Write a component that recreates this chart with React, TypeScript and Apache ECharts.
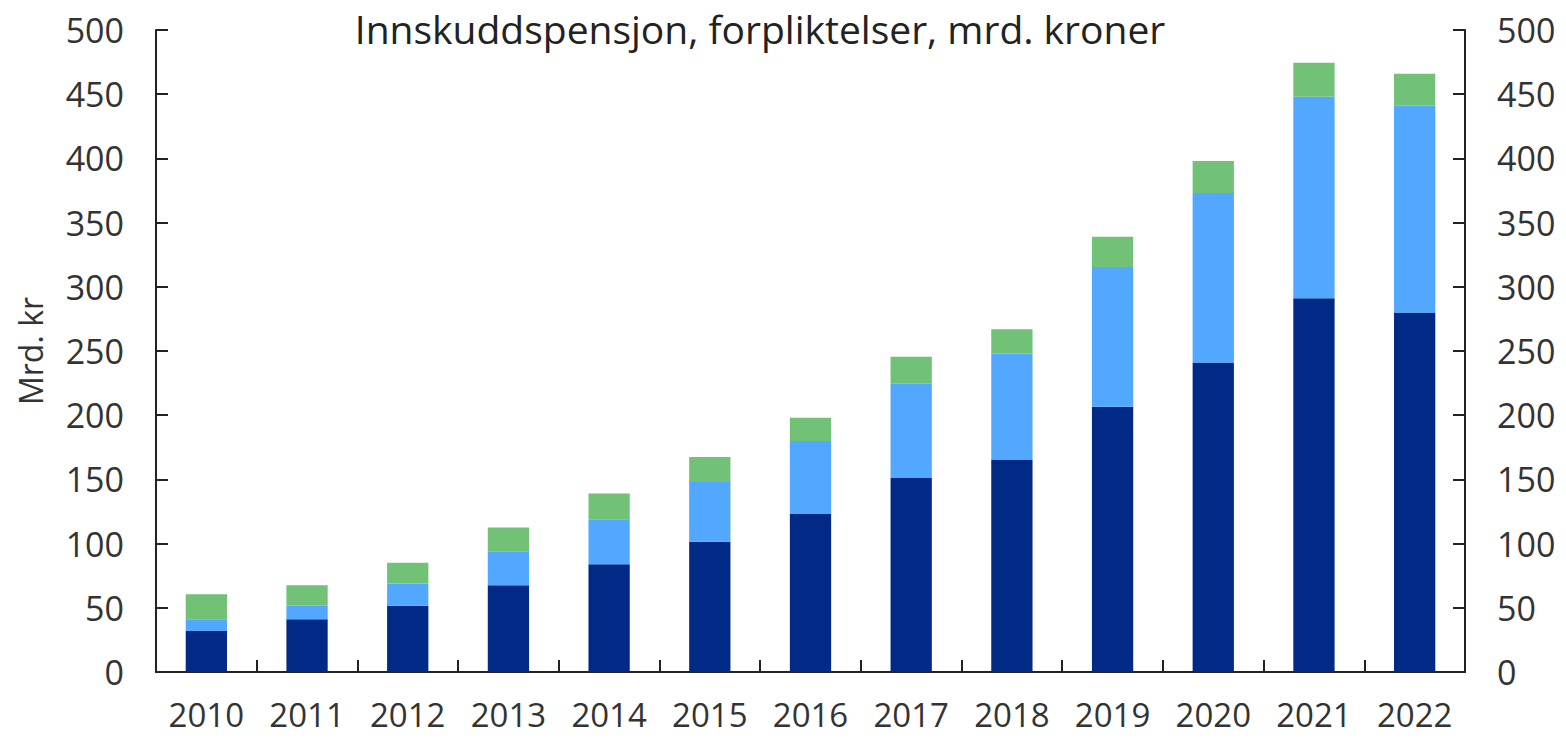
import React, { useEffect, useRef } from "react";
import * as echarts from "echarts";

const years = ["2010","2011","2012","2013","2014","2015","2016","2017","2018","2019","2020","2021","2022"];
const darkSeg = [32, 41, 51.5, 67.5, 84, 101.5, 123, 151, 165.5, 206.5, 241, 291, 280];
const lightSeg = [9, 10.5, 17.5, 26.5, 35, 46.5, 57, 73.5, 82.5, 109, 132, 157, 161];
const greenSeg = [19.5, 16, 16, 18.5, 20, 19.5, 18, 21, 19, 23.5, 25, 26.5, 25];
const titleText = "Innskuddspensjon, forpliktelser, mrd. kroner";
const yName = "Mrd. kr";

export default function App() {
  const ref = useRef<HTMLDivElement>(null);
  useEffect(() => {
    if (!ref.current) return;
    const chart = echarts.init(ref.current, null, { renderer: "svg" });
    const font = "'Open Sans', 'Noto Sans', sans-serif";
    const axisLine = { show: true, lineStyle: { color: "#222", width: 2 } };
    const yBase = {
      type: "value" as const,
      min: 0,
      max: 500,
      interval: 50,
      axisLine,
      axisTick: { show: true, inside: true, length: 12, lineStyle: { color: "#222", width: 2 } },
      splitLine: { show: false },
      axisLabel: { color: "#333", fontSize: 34, fontFamily: font, margin: 32 },
    };
    chart.setOption({
      animation: false,
      textStyle: { fontFamily: font },
      title: {
        text: titleText,
        left: 755,
        textAlign: "center",
        top: 4,
        textStyle: { color: "#222", fontSize: 39, fontWeight: "normal", fontFamily: font },
      },
      grid: { left: 156, right: 101, top: 30, bottom: 66, containLabel: false },
      xAxis: {
        type: "category",
        data: years,
        axisLine,
        axisTick: { show: true, inside: true, length: 12, alignWithLabel: false, lineStyle: { color: "#222", width: 2 } },
        axisLabel: { color: "#333", fontSize: 33, lineHeight: 32, fontFamily: font, margin: 26, interval: 0 },
      },
      yAxis: [
        {
          ...yBase,
          position: "left",
          name: yName,
          nameLocation: "middle",
          nameRotate: 90,
          nameGap: 110,
          nameTextStyle: { color: "#333", fontSize: 32, fontFamily: font },
        },
        { ...yBase, position: "right" },
      ],
      series: [
        { type: "bar", stack: "a", data: darkSeg, barWidth: "41%", itemStyle: { color: "#002A86" } },
        { type: "bar", stack: "a", data: lightSeg, barWidth: "41%", itemStyle: { color: "#52A7FF" } },
        { type: "bar", stack: "a", data: greenSeg, barWidth: "41%", itemStyle: { color: "#71C277" } },
      ],
    });
    return () => chart.dispose();
  }, []);
  return <div ref={ref} style={{ position: "fixed", left: 0, top: 0, width: 1566, height: 738, background: "#fff" }} />;
}
